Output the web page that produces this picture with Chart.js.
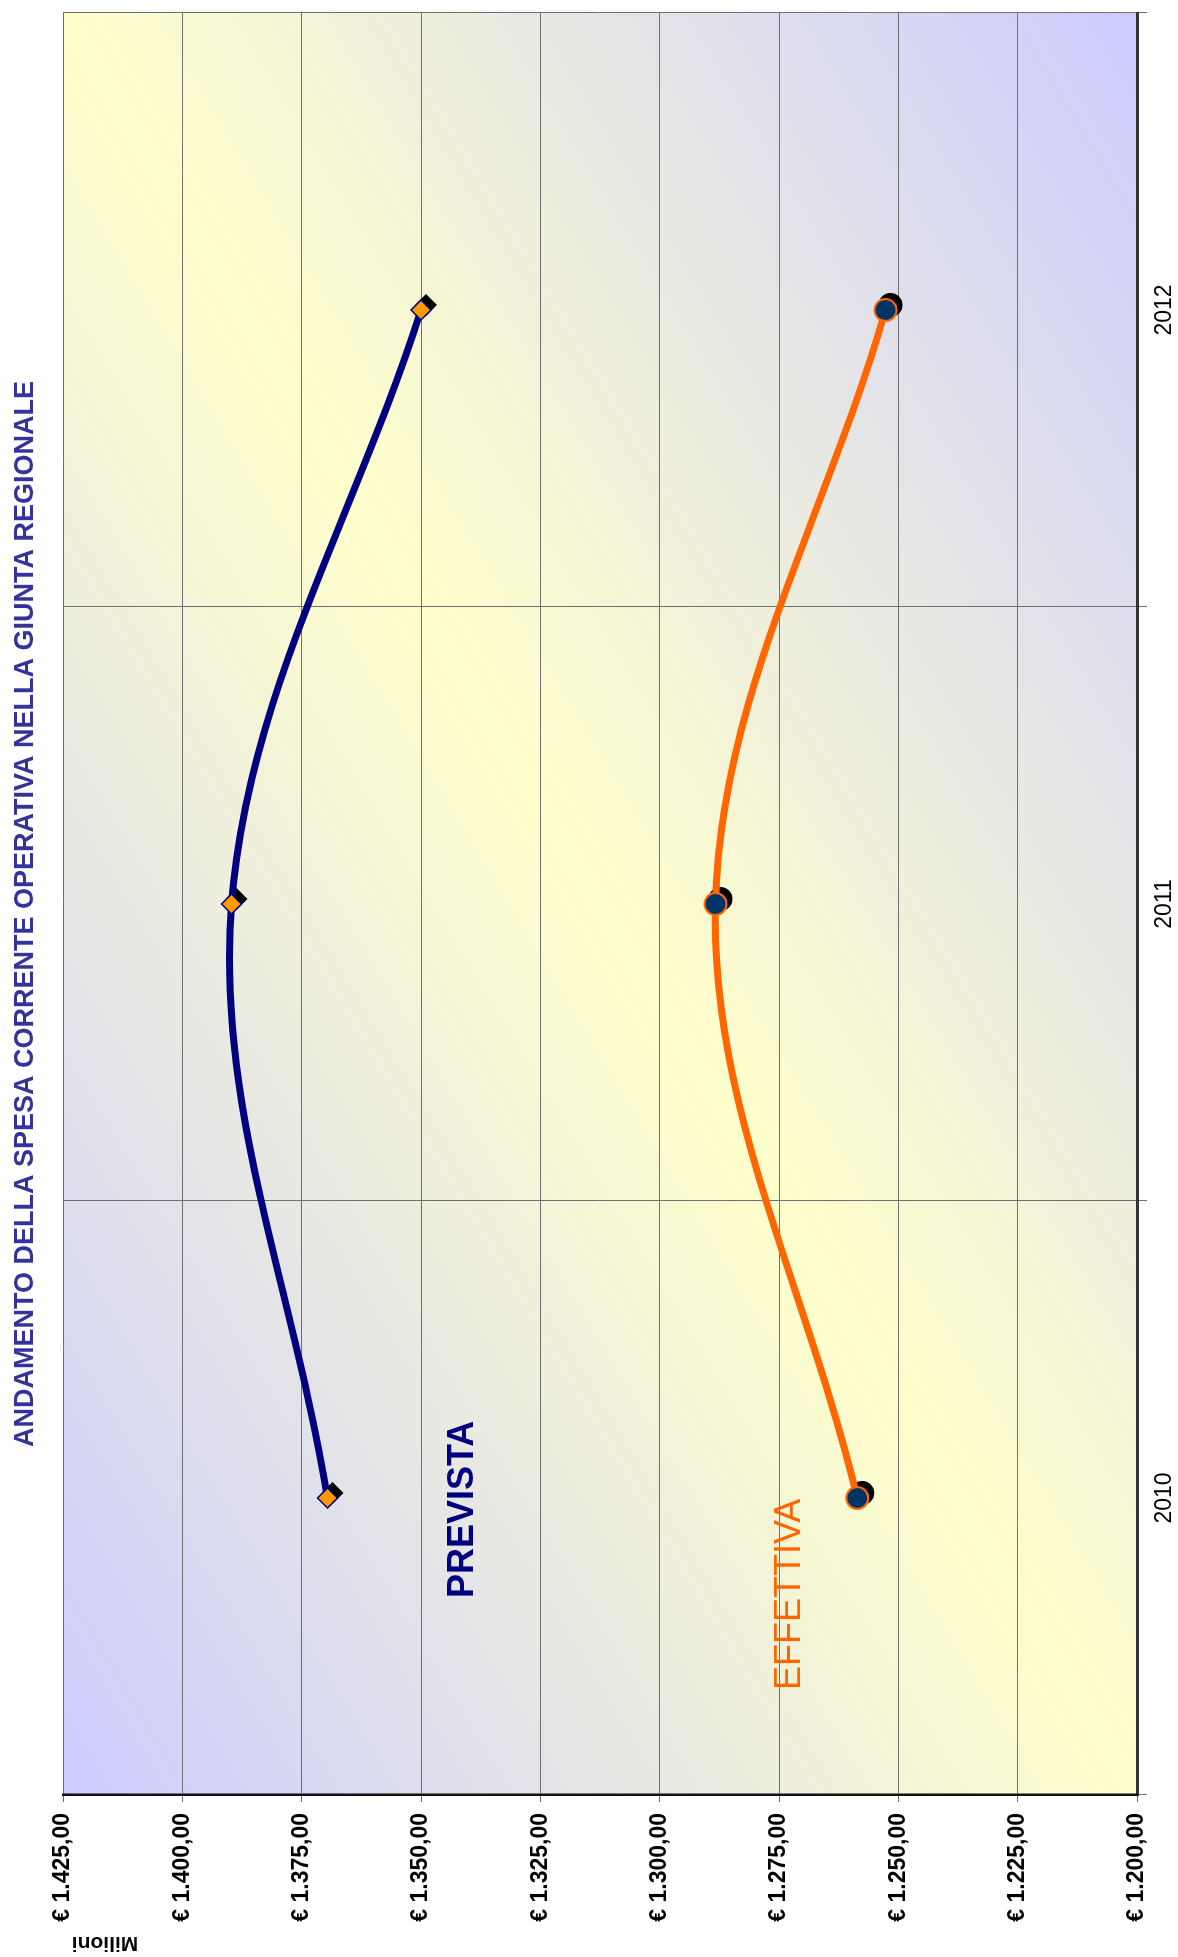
<!DOCTYPE html>
<html>
<head>
<meta charset="utf-8">
<script src="https://cdn.jsdelivr.net/npm/chart.js@4.4.1/dist/chart.umd.min.js"></script>
<style>
  html, body { margin: 0; padding: 0; background: #fff; overflow: hidden; }
  #page { position: relative; width: 1178px; height: 1957px; overflow: hidden; background: #fff; }
  /* the chart is laid out landscape and turned a quarter turn to stand on the page */
  #wrap { position: absolute; left: 0; top: 0; width: 1957px; height: 1178px;
          transform-origin: 0 0; transform: translateY(1957px) rotate(-90deg); }
  canvas { display: block; }
</style>
</head>
<body>
<div id="page"><div id="wrap"><canvas id="c" width="1957" height="1178"></canvas></div></div>
<script>
// ---- data ----
const years = ['2010', '2011', '2012'];
const prevista = [1369.6, 1389.7, 1350.0];
const effettiva = [1258.6, 1288.3, 1252.7];
const valueTicks = [1200, 1225, 1250, 1275, 1300, 1325, 1350, 1375, 1400, 1425];
const seriesNames = ['PREVISTA', 'EFFETTIVA'];
const titleText = 'ANDAMENTO DELLA SPESA CORRENTE OPERATIVA NELLA GIUNTA REGIONALE';
const unitLabel = 'Milioni';

const FONT = "'Liberation Sans', Arial, Helvetica, sans-serif";

// "€ 1.425,00"
function euro(v) {
  const parts = Number(v).toFixed(2).split('.');
  const int = parts[0].replace(/\B(?=(\d{3})+(?!\d))/g, '.');
  return '€ ' + int + ',' + parts[1];
}

// diagonal wash behind the plot: lavender corners, yellow along the other diagonal
const backdrop = {
  id: 'backdrop',
  beforeDraw(chart) {
    const { ctx, chartArea: a } = chart;
    ctx.save();
    ctx.fillStyle = '#ffffff';
    ctx.fillRect(0, 0, chart.width, chart.height);
    const w = a.right - a.left, h = a.bottom - a.top;
    const cx = (a.left + a.right) / 2, cy = (a.top + a.bottom) / 2;
    const k = (w * h) / (w * w + h * h);
    const g = ctx.createLinearGradient(cx - k * h, cy - k * w, cx + k * h, cy + k * w);
    g.addColorStop(0, '#ccccff');
    g.addColorStop(0.5, '#ffffcc');
    g.addColorStop(1, '#ccccff');
    ctx.fillStyle = g;
    ctx.fillRect(a.left, a.top, w, h);
    ctx.restore();
  }
};

// dark drop shadow under each marker
const markerShadow = {
  id: 'markerShadow',
  beforeDatasetDraw(chart, args) {
    const { ctx } = chart;
    const ds = chart.data.datasets[args.index];
    const off = 5;
    ctx.save();
    ctx.fillStyle = '#000';
    args.meta.data.forEach(pt => {
      const x = pt.x + off, y = pt.y + off, r = ds.pointRadius + 1;
      ctx.beginPath();
      if (ds.pointStyle === 'rectRot') {
        ctx.moveTo(x, y - r); ctx.lineTo(x + r, y); ctx.lineTo(x, y + r); ctx.lineTo(x - r, y);
        ctx.closePath();
      } else {
        ctx.arc(x, y, r, 0, Math.PI * 2);
      }
      ctx.fill();
    });
    ctx.restore();
  }
};

// title, unit caption and series captions
const captions = {
  id: 'captions',
  afterDraw(chart) {
    const { ctx, chartArea: a } = chart;
    ctx.save();
    ctx.textBaseline = 'alphabetic';

    ctx.fillStyle = '#333399';
    ctx.font = 'bold 27px ' + FONT;
    ctx.textAlign = 'center';
    ctx.fillText(titleText, (a.left + a.right) / 2 - 10, 33);

    ctx.save();
    ctx.translate(20, 105);
    ctx.rotate(-Math.PI / 2);
    ctx.fillStyle = '#000';
    ctx.font = 'bold 21px ' + FONT;
    ctx.textAlign = 'center';
    ctx.fillText(unitLabel, 0, 0);
    ctx.restore();

    ctx.textAlign = 'left';
    ctx.fillStyle = chart.data.datasets[0].borderColor;
    ctx.font = 'bold 36px ' + FONT;
    ctx.fillText(chart.data.datasets[0].label, 359, 473);

    ctx.fillStyle = chart.data.datasets[1].borderColor;
    ctx.font = '36px ' + FONT;
    ctx.fillText(chart.data.datasets[1].label, 267, 800);
    ctx.restore();
  }
};

new Chart(document.getElementById('c'), {
  type: 'line',
  data: {
    labels: years,
    datasets: [
      {
        label: seriesNames[0],
        data: prevista,
        borderColor: '#000080',
        borderWidth: 7,
        tension: 0.35,
        fill: false,
        pointStyle: 'rectRot',
        pointRadius: 10,
        pointBackgroundColor: '#ff9900',
        pointBorderColor: '#000080',
        pointBorderWidth: 1.5
      },
      {
        label: seriesNames[1],
        data: effettiva,
        borderColor: '#ff6600',
        borderWidth: 7,
        tension: 0.35,
        fill: false,
        pointStyle: 'circle',
        pointRadius: 11,
        pointBackgroundColor: '#003366',
        pointBorderColor: '#ff6600',
        pointBorderWidth: 2
      }
    ]
  },
  options: {
    responsive: false,
    animation: false,
    devicePixelRatio: 1,
    layout: { padding: { top: 63, right: 10, bottom: 0, left: 0 } },
    plugins: {
      legend: { display: false },
      title: { display: false },
      tooltip: { enabled: false }
    },
    scales: {
      x: {
        type: 'category',
        offset: true,
        grid: { offset: true, color: '#707070', lineWidth: 1, tickLength: 10, drawTicks: true },
        border: { color: '#333', width: 3 },
        ticks: { color: '#000', font: { family: FONT, size: 23 }, padding: 4, maxRotation: 0, minRotation: 0 },
        afterFit(s) { s.height = 41; }
      },
      y: {
        min: 1200,
        max: 1425,
        grid: { color: '#707070', lineWidth: 1, tickLength: 7 },
        border: { color: '#111', width: 2.5 },
        ticks: {
          color: '#000',
          font: { family: FONT, size: 23, weight: 'bold' },
          padding: 11,
          callback: v => euro(v)
        },
        afterBuildTicks(s) { s.ticks = valueTicks.map(v => ({ value: v })); },
        afterFit(s) { s.width = 162; }
      }
    }
  },
  plugins: [backdrop, markerShadow, captions]
});
</script>
</body>
</html>
